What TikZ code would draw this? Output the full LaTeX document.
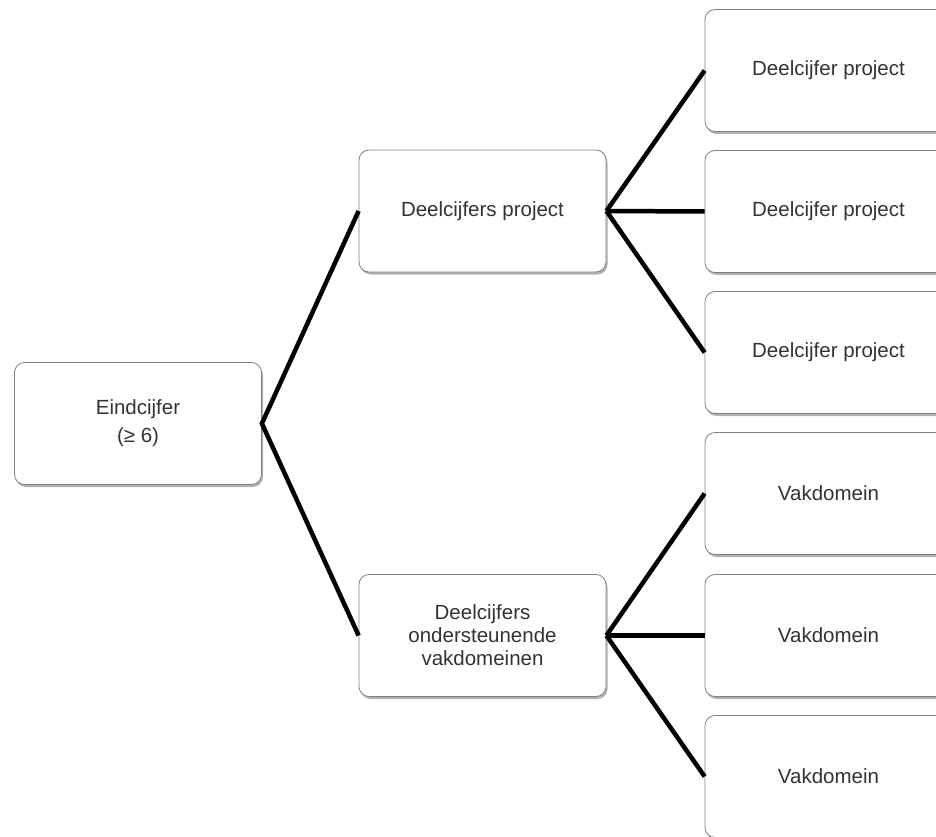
\documentclass[tikz,border=0pt]{standalone}
\usepackage{fontspec}
\setmainfont{Liberation Sans}
\usetikzlibrary{shadows}

\tikzset{
  blok/.style={draw=black!50, line width=0.8pt, fill=white, rounded corners=10pt,
    minimum width=247pt, minimum height=122pt, align=center, text=black!80,
    font=\fontsize{20.5}{23}\selectfont,
    drop shadow={shadow xshift=1.5pt, shadow yshift=-2.5pt, opacity=0.3, fill=black}},
  tak/.style={line width=4.5pt, black}
}

\begin{document}
\begin{tikzpicture}[x=1pt,y=-1pt]
    \clip (0,0) rectangle (936,837);

    \node[blok] (eind) at (138,423.5) {Eindcijfer\\[5pt](≥ 6)};
    \node[blok] (proj) at (482.5,211) {Deelcijfers project};
    \node[blok] (vak) at (482.5,635.5) {Deelcijfers\\ondersteunende\\vakdomeinen};

    \foreach \y/\n in {70.5/p1,211.5/p2,352.5/p3}
        \node[blok] (\n) at (828.5,\y) {Deelcijfer project};
    \foreach \y/\n in {493.5/v1,635.5/v2,776.5/v3}
        \node[blok] (\n) at (828.5,\y) {Vakdomein};

    \draw[tak] (proj.west) -- (eind.east) -- (vak.west);
    \foreach \n in {p1,p2,p3}
        \draw[tak] (proj.east) -- (\n.west);
    \foreach \n in {v1,v2,v3}
        \draw[tak] (vak.east) -- (\n.west);
\end{tikzpicture}
\end{document}
